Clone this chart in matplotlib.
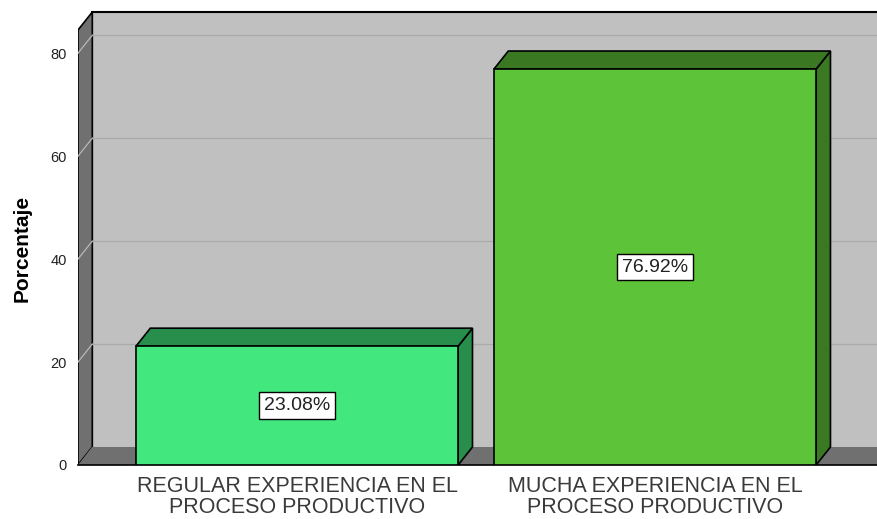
import matplotlib.pyplot as plt
from matplotlib.patches import Polygon

plt.rcParams['font.family'] = ['Liberation Sans', 'DejaVu Sans']

categories = ["REGULAR EXPERIENCIA EN EL\nPROCESO PRODUCTIVO",
              "MUCHA EXPERIENCIA EN EL\nPROCESO PRODUCTIVO"]
values = [23.08, 76.92]
labels = ["23.08%", "76.92%"]
yticks = [0, 20, 40, 60, 80]

front_colors = ["#42E77E", "#5DC339"]
side_colors = ["#278E4C", "#3A7822"]

W, H = 877, 519
fig = plt.figure(figsize=(W / 100, H / 100), dpi=100)
ax = fig.add_axes([78 / W, (H - 465) / H, 799 / W, (465 - 12) / H])

x0, x1 = -0.612, 1.620
ytop = 88.0
DX, DY = 0.04, 3.5   # depth offset of the 3d box
bw = 0.9

ax.set_xlim(x0, x1)
ax.set_ylim(0, ytop)
for s in ax.spines.values():
    s.set_visible(False)
ax.patch.set_visible(False)

# walls
ax.add_patch(Polygon([(x0 + DX, DY), (x1, DY), (x1, ytop), (x0 + DX, ytop)],
                     closed=True, fc="#C0C0C0", ec="none", zorder=0))
ax.add_patch(Polygon([(x0, 0), (x0 + DX, DY), (x0 + DX, ytop), (x0, ytop - DY)],
                     closed=True, fc="#707070", ec="black", lw=1.2, zorder=1))
ax.add_patch(Polygon([(x0, 0), (x1, 0), (x1, DY), (x0 + DX, DY)],
                     closed=True, fc="#707070", ec="none", zorder=1))
ax.plot([x0 + DX, x1], [ytop, ytop], color="black", lw=1.5, zorder=2, clip_on=False)
ax.plot([x0, x1], [0, 0], color="black", lw=1.2, zorder=2, clip_on=False)

# gridlines
for v in yticks[1:]:
    ax.plot([x0 + DX, x1], [v + DY, v + DY], color="#AAAAAA", lw=0.9, zorder=1.5)
    ax.plot([x0, x0 + DX], [v, v + DY], color="#B8B8B8", lw=0.9, zorder=1.5)

# 3d bars
for i, v in enumerate(values):
    l, r = i - bw / 2, i + bw / 2
    ax.add_patch(Polygon([(r, 0), (r + DX, DY), (r + DX, v + DY), (r, v)],
                         closed=True, fc=side_colors[i], ec="black", lw=1.2, zorder=3))
    ax.add_patch(Polygon([(l, v), (r, v), (r + DX, v + DY), (l + DX, v + DY)],
                         closed=True, fc=side_colors[i], ec="black", lw=1.2, zorder=3))
    ax.add_patch(Polygon([(l, 0), (r, 0), (r, v), (l, v)],
                         closed=True, fc=front_colors[i], ec="black", lw=1.2, zorder=4))
    ax.text(i, v / 2, labels[i], ha="center", va="center", fontsize=14,
            color="#222222", zorder=5,
            bbox=dict(boxstyle="square,pad=0.25", fc="white", ec="black", lw=1))

ax.set_yticks(yticks)
ax.set_yticklabels([str(t) for t in yticks], fontsize=10.5, color="#222222")
ax.set_xticks(range(len(categories)))
ax.set_xticklabels(categories, fontsize=15.5, color="#3A3A3A", linespacing=1.0)
ax.tick_params(axis="y", length=0, pad=8)
ax.tick_params(axis="x", length=0, pad=8)

fig.text(22 / W, 1 - 248 / H, "Porcentaje", rotation=90, ha="center", va="center",
         fontsize=15, fontweight="bold")

fig.savefig("out.png", dpi=100)
